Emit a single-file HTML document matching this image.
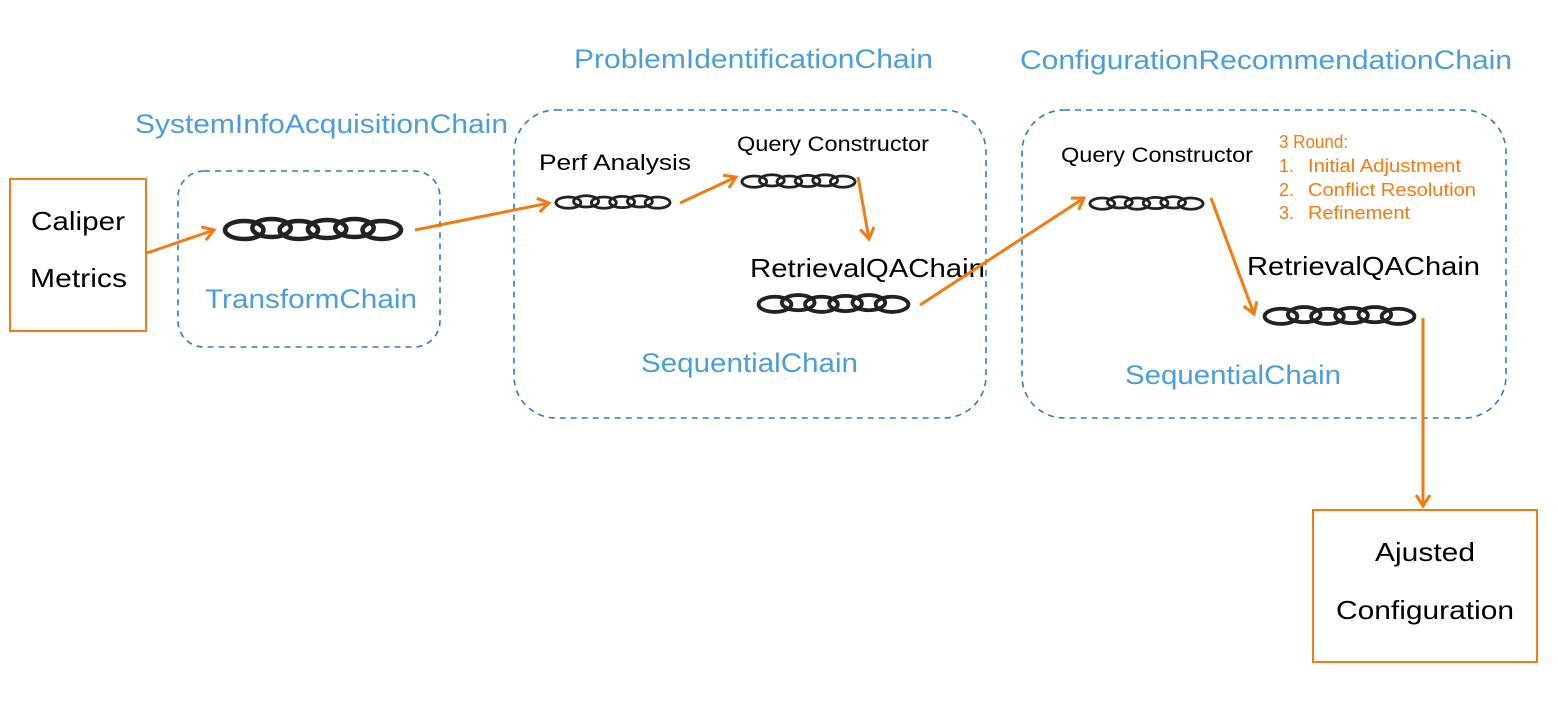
<!DOCTYPE html>
<html><head><meta charset="utf-8"><style>
body{margin:0;background:#fff}
</style></head><body>
<svg width="1558" height="700" viewBox="0 0 1558 700" xmlns="http://www.w3.org/2000/svg" font-family="Liberation Sans, Arial, sans-serif">
<defs>
<symbol id="ch" viewBox="0 0 180 32" preserveAspectRatio="none">
<g fill="none" stroke="#222" stroke-width="4.5">
<ellipse cx="22" cy="17" rx="19" ry="9"/>
<ellipse cx="49" cy="15" rx="19" ry="9"/>
<ellipse cx="76" cy="17" rx="19" ry="9"/>
<ellipse cx="104" cy="16" rx="19" ry="9"/>
<ellipse cx="131" cy="15" rx="19" ry="9"/>
<ellipse cx="158" cy="17" rx="19" ry="9"/>
</g>
</symbol>
<marker id="ar" markerWidth="16" markerHeight="16" refX="13" refY="8" orient="auto" markerUnits="userSpaceOnUse">
<path d="M2,1 L13,8 L2,15" fill="none" stroke="#f57a0f" stroke-width="3"/>
</marker>
</defs>
<g fill="none" stroke="#2a7ec2" stroke-width="1.6" stroke-dasharray="6,5">
<rect x="178" y="171" width="262" height="176" rx="26"/>
<rect x="514" y="110" width="472" height="308" rx="42"/>
<rect x="1022" y="110" width="484" height="308" rx="42"/>
</g>
<rect x="10" y="179" width="136" height="152" fill="none" stroke="#f57a0f" stroke-width="2"/>
<rect x="1313" y="510" width="224" height="152" fill="none" stroke="#f57a0f" stroke-width="2"/>
<g font-size="26" fill="#000" lengthAdjust="spacingAndGlyphs">
<text x="31" y="230" textLength="94" lengthAdjust="spacingAndGlyphs">Caliper</text>
<text x="30" y="287" textLength="97" lengthAdjust="spacingAndGlyphs">Metrics</text>
<text x="1375" y="561" textLength="100" lengthAdjust="spacingAndGlyphs">Ajusted</text>
<text x="1336" y="619" textLength="178" lengthAdjust="spacingAndGlyphs">Configuration</text>
</g>
<g fill="#4a9edb" font-size="27">
<text x="135" y="133" textLength="373" lengthAdjust="spacingAndGlyphs">SystemInfoAcquisitionChain</text>
<text x="205" y="308" textLength="212" lengthAdjust="spacingAndGlyphs">TransformChain</text>
<text x="574" y="68" textLength="359" lengthAdjust="spacingAndGlyphs">ProblemIdentificationChain</text>
<text x="641" y="372" textLength="217" lengthAdjust="spacingAndGlyphs">SequentialChain</text>
<text x="1020" y="69" textLength="492" lengthAdjust="spacingAndGlyphs">ConfigurationRecommendationChain</text>
<text x="1125" y="384" textLength="216" lengthAdjust="spacingAndGlyphs">SequentialChain</text>
</g>
<g fill="#000">
<text x="539" y="170" font-size="22" textLength="152" lengthAdjust="spacingAndGlyphs">Perf Analysis</text>
<text x="737" y="151" font-size="21" textLength="192" lengthAdjust="spacingAndGlyphs">Query Constructor</text>
<text x="750" y="277" font-size="26" textLength="235" lengthAdjust="spacingAndGlyphs">RetrievalQAChain</text>
<text x="1061" y="162" font-size="21" textLength="192" lengthAdjust="spacingAndGlyphs">Query Constructor</text>
<text x="1247" y="275" font-size="26" textLength="233" lengthAdjust="spacingAndGlyphs">RetrievalQAChain</text>
</g>
<g fill="#f57a0f" font-size="18">
<text x="1279" y="148" textLength="69" lengthAdjust="spacingAndGlyphs">3 Round:</text>
<text x="1279" y="172">1.</text><text x="1308" y="172" textLength="153" lengthAdjust="spacingAndGlyphs">Initial Adjustment</text>
<text x="1279" y="196">2.</text><text x="1308" y="196" textLength="168" lengthAdjust="spacingAndGlyphs">Conflict Resolution</text>
<text x="1279" y="219">3.</text><text x="1308" y="219" textLength="102" lengthAdjust="spacingAndGlyphs">Refinement</text>
</g>
<use href="#ch" x="222" y="213" width="182" height="32"/>
<use href="#ch" x="554" y="192" width="118" height="20"/>
<use href="#ch" x="740" y="171" width="117" height="20"/>
<use href="#ch" x="756" y="290" width="155" height="27"/>
<use href="#ch" x="1088" y="193" width="117" height="20"/>
<use href="#ch" x="1262" y="302" width="155" height="27"/>
<g stroke="#f57a0f" stroke-width="3" marker-end="url(#ar)">
<line x1="147" y1="253" x2="214" y2="230"/>
<line x1="415" y1="230" x2="549" y2="203"/>
<line x1="680" y1="203" x2="736" y2="177"/>
<line x1="858" y1="177" x2="869" y2="239"/>
<line x1="920" y1="305" x2="1084" y2="198"/>
<line x1="1211" y1="198" x2="1254" y2="314"/>
<line x1="1423" y1="318" x2="1423" y2="506"/>
</g>
</svg>
</body></html>
